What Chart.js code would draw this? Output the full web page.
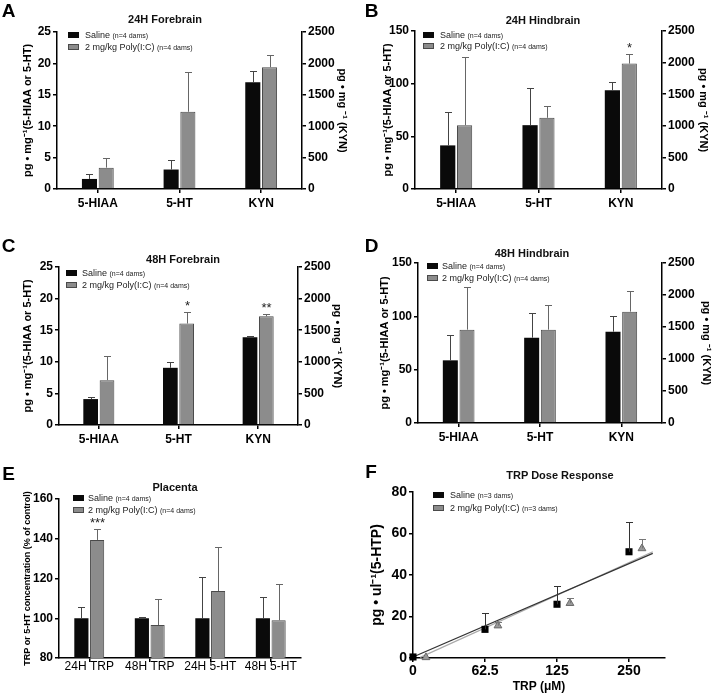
<!DOCTYPE html>
<html>
<head>
<meta charset="utf-8">
<script src="https://cdn.jsdelivr.net/npm/chart.js@4.4.1/dist/chart.umd.min.js"></script>
<style>
  body { margin: 0; background: #fff; width: 720px; height: 696px; position: relative; overflow: hidden;
         font-family: 'Liberation Sans', Arial, sans-serif; color: #111; }
  canvas { position: absolute; }
  .t { position: absolute; white-space: nowrap; transform: translate(-50%, -50%); line-height: 1; }
  .letter { font-size: 19px; font-weight: bold; color: #000; }
  .title { font-size: 11px; font-weight: bold; color: #111; }
  .lg { position: absolute; white-space: nowrap; transform: translateY(-50%); line-height: 1; font-size: 9px; color: #222; }
  .lg small { font-size: 7px; }
  .box { position: absolute; }
</style>
</head>
<body>
<canvas id="pA" width="360" height="230" style="left:0;top:0"></canvas>
<canvas id="pB" width="360" height="230" style="left:360px;top:0"></canvas>
<canvas id="pC" width="360" height="230" style="left:0;top:230px"></canvas>
<canvas id="pD" width="360" height="230" style="left:360px;top:230px"></canvas>
<canvas id="pE" width="360" height="236" style="left:0;top:460px"></canvas>
<canvas id="pF" width="360" height="236" style="left:360px;top:460px"></canvas>
<script>
// ---- data ----
// brain panels: 5-HIAA and 5-HT on the left axis, KYN on the right axis
var brainLabels = ['5-HIAA', '5-HT', 'KYN'];

var fb24Saline    = [1.6, 3.1, 1700];
var fb24SalineErr = [2.4, 4.6, 1880];
var fb24Poly      = [3.4, 12.3, 1940];
var fb24PolyErr   = [4.95, 18.6, 2130];

var hb24Saline    = [41.4, 60.6, 1563];
var hb24SalineErr = [72.9, 96.3, 1690];
var hb24Poly      = [60.6, 67.6, 1984];
var hb24PolyErr   = [125, 78.6, 2132];
var hb24Stars     = ['', '', '*'];

var fb48Saline    = [4.1, 9.05, 1390];
var fb48SalineErr = [4.47, 10.0, 1405];
var fb48Poly      = [7.1, 16.05, 1720];
var fb48PolyErr   = [10.9, 17.9, 1760];
var fb48Stars     = ['', '*', '**'];

var hb48Saline    = [58.75, 80, 1427];
var hb48SalineErr = [82.5, 103, 1667];
var hb48Poly      = [87.5, 87.5, 1740];
var hb48PolyErr   = [127.5, 111, 2057];

// placenta, % of control
var placentaLabels    = ['24H TRP', '48H TRP', '24H 5-HT', '48H 5-HT'];
var placentaSaline    = [100, 100, 100, 100];
var placentaSalineErr = [105.8, 100.5, 120.6, 110.5];
var placentaPoly      = [139.4, 96.6, 113.7, 99];
var placentaPolyErr   = [144.9, 109.5, 136, 117];
var placentaStars     = ['***', '', '', ''];

// TRP dose response (doses drawn evenly spaced)
var doseLabels     = ['0', '62.5', '125', '250'];
var doseSaline     = [0.5, 13.8, 25.9, 51.2];
var doseSalineErr  = [null, 21.5, 34.7, 65.6];
var dosePoly       = [0.3, 15.6, 26.4, 52.8];
var dosePolyErr    = [null, 17.2, 28.8, 57.3];
var fitSaline      = [[0, 0.5], [3.33, 50.4]];
var fitPoly        = [[0.1, 0.3], [3.33, 51.2]];

// ---- style ----
var FONT = "'Liberation Sans', Arial, sans-serif";
Chart.defaults.font.family = FONT;
Chart.defaults.color = '#000';
var SALINE = '#0a0a0a', POLY = '#8c8c8c', POLY_EDGE = '#4a4a4a';

// error bars (upper only) and significance stars
var errorBars = {
    id: 'errorBars',
    afterDatasetsDraw: function(chart) {
        var ctx = chart.ctx;
        chart.data.datasets.forEach(function(ds, i) {
            if (!ds.errTop) return;
            var meta = chart.getDatasetMeta(i);
            var yScale = chart.scales[meta.yAxisID];
            meta.data.forEach(function(el, j) {
                var e = ds.errTop[j];
                if (e == null) return;
                var x = Math.round(el.x) + 0.5;
                var yTop = Math.round(yScale.getPixelForValue(e)) + 0.5;
                var cap = ds.capWidth || 7;
                ctx.save();
                ctx.strokeStyle = ds.errColor;
                ctx.lineWidth = 1;
                ctx.beginPath();
                ctx.moveTo(x, el.y);
                ctx.lineTo(x, yTop);
                ctx.moveTo(x - cap / 2, yTop);
                ctx.lineTo(x + cap / 2, yTop);
                ctx.stroke();
                if (ds.stars && ds.stars[j]) {
                    ctx.fillStyle = '#222';
                    ctx.font = '13px ' + FONT;
                    ctx.textAlign = 'center';
                    ctx.textBaseline = 'alphabetic';
                    ctx.fillText(ds.stars[j], x, yTop - 3);
                }
                ctx.restore();
            });
        });
    }
};

function plain(v) { return String(v); }

function axisStyle(size, weight) {
    return {
        ticks: { color: '#000', font: { size: size, weight: weight || 'bold' }, padding: 2 },
        grid: { drawOnChartArea: false, color: '#000', lineWidth: 1.5, tickLength: 4 },
        border: { color: '#000', width: 1.5 }
    };
}

function axisTitle(text, size, center) {
    return { display: true, text: text, color: '#000',
             font: { size: size, weight: 'bold', lineHeight: 1 },
             padding: { top: center - size / 2, bottom: 0 } };
}

function merge(a, b) { return Object.assign({}, a, b); }

function brainPanel(id, box, yMax, yStep, saline, salineErr, poly, polyErr, stars, leftTitleX, rightTitleOff) {
    var left = function(v) { return v.map(function(x, i) { return i < 2 ? x : null; }); };
    var right = function(v) { return v.map(function(x, i) { return i === 2 ? x : null; }); };
    var st = stars || ['', '', ''];
    var salineDs = { backgroundColor: SALINE, borderWidth: 0, errColor: '#444' };
    var polyDs = { backgroundColor: POLY, borderColor: POLY_EDGE, borderWidth: 1, errColor: '#666' };

    var yAxis = axisStyle(12);
    var y1Axis = axisStyle(12);
    var xAxis = axisStyle(12);
    xAxis.grid = merge(xAxis.grid, { offset: false });
    xAxis.ticks = merge(xAxis.ticks, { padding: 3 });

    new Chart(document.getElementById(id), {
        type: 'bar',
        data: {
            labels: brainLabels,
            datasets: [
                merge(salineDs, { data: left(saline), errTop: left(salineErr), yAxisID: 'y' }),
                merge(polyDs, { data: left(poly), errTop: left(polyErr), stars: left(st), yAxisID: 'y' }),
                merge(salineDs, { data: right(saline), errTop: right(salineErr), yAxisID: 'y1' }),
                merge(polyDs, { data: right(poly), errTop: right(polyErr), stars: right(st), yAxisID: 'y1' })
            ]
        },
        options: {
            responsive: false,
            animation: false,
            skipNull: true,
            categoryPercentage: 0.41,
            barPercentage: 0.9,
            layout: { padding: { top: box.T, left: 0, right: 0, bottom: 0 } },
            plugins: { legend: { display: false }, tooltip: { enabled: false } },
            scales: {
                x: merge(xAxis, { afterFit: function(s) { s.height = box.B; } }),
                y: merge(yAxis, {
                    position: 'left', min: 0, max: yMax, ticks: merge(yAxis.ticks, { stepSize: yStep, callback: plain }),
                    title: axisTitle('pg • mg⁻¹(5-HIAA or 5-HT)', 11, leftTitleX),
                    afterFit: function(s) { s.width = box.L; }
                }),
                y1: merge(y1Axis, {
                    position: 'right', min: 0, max: 2500, ticks: merge(y1Axis.ticks, { stepSize: 500, callback: plain }),
                    title: axisTitle('pg • mg ⁻¹ (KYN)', 11, rightTitleOff),
                    afterFit: function(s) { s.width = box.R; }
                })
            }
        },
        plugins: [errorBars]
    });
}

brainPanel('pA', { L: 57, R: 58, T: 32, B: 41 }, 25, 5, fb24Saline, fb24SalineErr, fb24Poly, fb24PolyErr, null, 28, 18);
brainPanel('pB', { L: 55, R: 58, T: 31, B: 41 }, 150, 50, hb24Saline, hb24SalineErr, hb24Poly, hb24PolyErr, hb24Stars, 28, 17);
brainPanel('pC', { L: 59, R: 62, T: 37, B: 35 }, 25, 5, fb48Saline, fb48SalineErr, fb48Poly, fb48PolyErr, fb48Stars, 28, 23);
brainPanel('pD', { L: 58, R: 58, T: 33, B: 37 }, 150, 50, hb48Saline, hb48SalineErr, hb48Poly, hb48PolyErr, null, 25, 14);

// ---- E: placenta ----
(function() {
    var yAxis = axisStyle(12);
    var xAxis = axisStyle(12, 'normal');
    xAxis.grid = merge(xAxis.grid, { offset: false });
    xAxis.ticks = merge(xAxis.ticks, { padding: -1, font: { size: 12, weight: 'normal', lineHeight: 1 } });
    new Chart(document.getElementById('pE'), {
        type: 'bar',
        data: {
            labels: placentaLabels,
            datasets: [
                { data: placentaSaline, errTop: placentaSalineErr, backgroundColor: SALINE, borderWidth: 0, errColor: '#444' },
                { data: placentaPoly, errTop: placentaPolyErr, stars: placentaStars, backgroundColor: POLY,
                  borderColor: POLY_EDGE, borderWidth: 1, errColor: '#666' }
            ]
        },
        options: {
            responsive: false,
            animation: false,
            categoryPercentage: 0.52,
            barPercentage: 0.9,
            layout: { padding: { top: 39, left: 0, right: 59, bottom: 0 } },
            plugins: { legend: { display: false }, tooltip: { enabled: false } },
            scales: {
                x: merge(xAxis, { afterFit: function(s) { s.height = 38; } }),
                y: merge(yAxis, {
                    min: 80, max: 160, ticks: merge(yAxis.ticks, { stepSize: 20, callback: plain }),
                    title: axisTitle('TRP or 5-HT concentration (% of control)', 9, 28),
                    afterFit: function(s) { s.width = 59; }
                })
            }
        },
        plugins: [errorBars]
    });
})();

// ---- F: TRP dose response ----
(function() {
    var polyShift = 0.18;
    var pts = function(xs, ys) { return ys.map(function(y, i) { return { x: i + xs, y: y }; }); };
    var fit = function(f) { return f.map(function(p) { return { x: p[0], y: p[1] }; }); };
    var yAxis = axisStyle(14);
    var xAxis = axisStyle(14);
    new Chart(document.getElementById('pF'), {
        type: 'scatter',
        data: {
            datasets: [
                { data: fit(fitSaline), showLine: true, borderColor: '#333', borderWidth: 1.2, pointRadius: 0, order: 2, clip: false },
                { data: fit(fitPoly), showLine: true, borderColor: '#aaa', borderWidth: 1.2, pointRadius: 0, order: 3, clip: false },
                { data: pts(0, doseSaline), errTop: doseSalineErr, errColor: '#333', pointStyle: 'rect', pointRadius: 5,
                  backgroundColor: '#000', borderColor: '#000', borderWidth: 0, order: 0, clip: false },
                { data: pts(polyShift, dosePoly), errTop: dosePolyErr, errColor: '#777', pointStyle: 'triangle', pointRadius: 4.5,
                  backgroundColor: '#9a9a9a', borderColor: '#6a6a6a', borderWidth: 1, order: 1, clip: false }
            ]
        },
        options: {
            responsive: false,
            animation: false,
            layout: { padding: { top: 32, left: 0, right: 55, bottom: 0 } },
            plugins: { legend: { display: false }, tooltip: { enabled: false } },
            scales: {
                x: merge(xAxis, {
                    type: 'linear', min: 0, max: 3.5,
                    afterBuildTicks: function(s) { s.ticks = doseLabels.map(function(_, i) { return { value: i }; }); },
                    ticks: merge(xAxis.ticks, { callback: function(v, i) { return doseLabels[i]; }, font: { size: 14, weight: 'bold', lineHeight: 1 } }),
                    title: { display: true, text: 'TRP (μM)', color: '#000', font: { size: 12, weight: 'bold', lineHeight: 1 },
                             padding: { top: 0, bottom: 3 } },
                    afterFit: function(s) { s.height = 38; }
                }),
                y: merge(yAxis, {
                    min: 0, max: 80, ticks: merge(yAxis.ticks, { stepSize: 20, callback: plain }),
                    title: axisTitle('pg • ul⁻¹(5-HTP)', 14, 17),
                    afterFit: function(s) { s.width = 53; }
                })
            }
        },
        plugins: [errorBars]
    });
})();

// ---- html text: panel letters, titles, legends ----
function addText(cls, html, x, y) {
    var d = document.createElement('div');
    d.className = 't ' + cls;
    d.innerHTML = html;
    d.style.left = x + 'px';
    d.style.top = y + 'px';
    document.body.appendChild(d);
}

function addLegend(boxX, row1, row2, textX, n) {
    var rows = [[row1, SALINE, 'none', 'Saline'], [row2, POLY, '1px solid ' + POLY_EDGE, '2 mg/kg Poly(I:C)']];
    rows.forEach(function(r) {
        var b = document.createElement('div');
        b.className = 'box';
        b.style.cssText = 'left:' + boxX + 'px;top:' + (r[0] - 3) + 'px;width:11px;height:6px;box-sizing:border-box;background:' + r[1] + ';border:' + r[2];
        document.body.appendChild(b);
        var t = document.createElement('div');
        t.className = 'lg';
        t.innerHTML = r[3] + ' <small>(n=' + n + ' dams)</small>';
        t.style.left = textX + 'px';
        t.style.top = r[0] + 'px';
        document.body.appendChild(t);
    });
}

[['A', 8.5, 10], ['B', 371.5, 10], ['C', 8.5, 245], ['D', 371.5, 244.5], ['E', 8.5, 472.5], ['F', 371, 471]]
    .forEach(function(l) { addText('letter', l[0], l[1], l[2]); });

addText('title', '24H Forebrain', 165, 19);
addText('title', '24H Hindbrain', 543, 20);
addText('title', '48H Forebrain', 183, 259);
addText('title', '48H Hindbrain', 532, 253);
addText('title', 'Placenta', 175, 487);
addText('title', 'TRP Dose Response', 560, 475);

addLegend(68, 35, 47, 85, 4);
addLegend(423, 34.5, 46, 440, 4);
addLegend(66, 272.5, 284.5, 82, 4);
addLegend(427, 266, 277.5, 442, 4);
addLegend(73, 497.5, 510, 88, 4);
addLegend(433, 495, 507.5, 450, 3);
</script>
</body>
</html>
